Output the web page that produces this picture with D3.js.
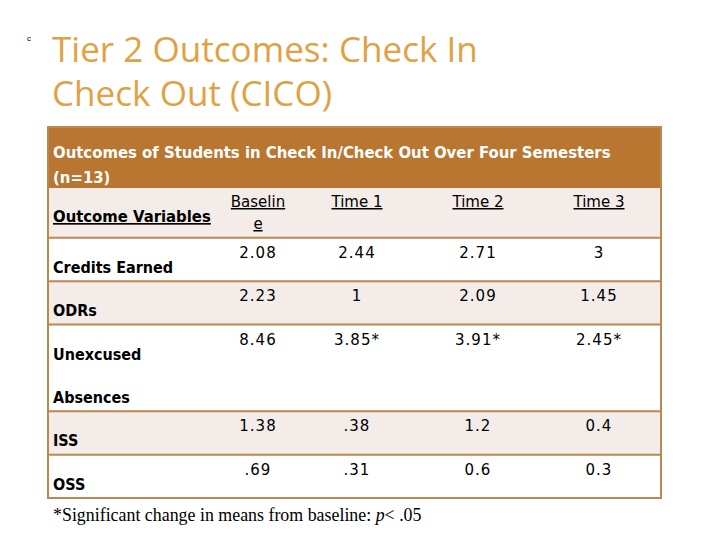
<!DOCTYPE html>
<html>
<head>
<meta charset="utf-8">
<script src="https://cdn.jsdelivr.net/npm/d3@7"></script>
<style>
  html, body { margin: 0; padding: 0; background: #ffffff; }
</style>
</head>
<body>
<div id="chart"></div>
<script>
// table data
var columns = ['Baseline', 'Time 1', 'Time 2', 'Time 3'];
var variables = ['Credits Earned', 'ODRs', 'Unexcused Absences', 'ISS', 'OSS'];
var baseline = ['2.08', '2.23', '8.46', '1.38', '.69'];
var time1 = ['2.44', '1', '3.85*', '.38', '.31'];
var time2 = ['2.71', '2.09', '3.91*', '1.2', '0.6'];
var time3 = ['3', '1.45', '2.45*', '0.4', '0.3'];
var series = [baseline, time1, time2, time3];

var W = 720, H = 540;
var brown = '#B87631';
var line = '#BA8850';
var shade = '#F3ECE8';
var orange = '#E1A142';
var tableFont = 'Tahoma, "DejaVu Sans", Verdana, sans-serif';
var condFont = '"DejaVu Sans Condensed", Tahoma, sans-serif';

var svg = d3.select('#chart').append('svg')
    .attr('width', W)
    .attr('height', H);

// squeeze/stretch a text so it spans the width seen on the slide
function fit(sel, target) {
    var w = sel.node().getComputedTextLength();
    var fs = parseFloat(sel.attr('font-size'));
    sel.attr('font-size', fs * target / w);
}

svg.append('text')
    .attr('x', 27).attr('y', 41)
    .attr('font-size', 8)
    .attr('font-family', 'Arial, sans-serif')
    .text('c');

var title = ['Tier 2 Outcomes: Check In', 'Check Out (CICO)'];
var titleSize = 34;
title.forEach(function (t, i) {
    var s = svg.append('text')
        .attr('x', 52).attr('y', 62 + i * 44)
        .attr('fill', orange)
        .attr('font-size', titleSize)
        .attr('font-family', '"Open Sans", "DejaVu Sans", sans-serif')
        .text(t);
    if (i === 0) {
        fit(s, 426);
        titleSize = s.attr('font-size');
    }
});

// table frame
var tLeft = 48, tRight = 661, tTop = 127, tBottom = 498;
var bandBottom = 188;

// row sizes in line units: header row, then the data rows (Unexcused Absences takes two)
var rowUnits = [1.15, 1, 1, 2, 1, 1];
var cum = [0];
rowUnits.forEach(function (u) { cum.push(cum[cum.length - 1] + u); });
var y = d3.scaleLinear().domain([0, cum[cum.length - 1]]).range([bandBottom, tBottom]);

// column centres as they sit on the slide
var x = d3.scaleOrdinal().domain(columns).range([258, 357, 478, 599]);

svg.append('rect')
    .attr('x', tLeft).attr('y', tTop)
    .attr('width', tRight - tLeft).attr('height', bandBottom - tTop)
    .attr('fill', brown);

// shaded rows: header, ODRs, ISS
[0, 2, 4].forEach(function (r) {
    svg.append('rect')
        .attr('x', tLeft).attr('y', y(cum[r]))
        .attr('width', tRight - tLeft).attr('height', y(cum[r + 1]) - y(cum[r]))
        .attr('fill', shade);
});

// separators
cum.slice(1, -1).forEach(function (c) {
    svg.append('line')
        .attr('x1', tLeft).attr('x2', tRight)
        .attr('y1', y(c)).attr('y2', y(c))
        .attr('stroke', line).attr('stroke-width', 2);
});
svg.append('rect')
    .attr('x', tLeft).attr('y', tTop)
    .attr('width', tRight - tLeft).attr('height', tBottom - tTop)
    .attr('fill', 'none')
    .attr('stroke', line).attr('stroke-width', 2);

var cap = svg.append('text')
    .attr('x', 53).attr('y', 158)
    .attr('fill', '#ffffff')
    .attr('font-size', 15)
    .attr('font-weight', 'bold')
    .attr('font-family', condFont)
    .text('Outcomes of Students in Check In/Check Out Over Four Semesters');
fit(cap, 558);
svg.append('text')
    .attr('x', 53).attr('y', 183)
    .attr('fill', '#ffffff')
    .attr('font-size', cap.attr('font-size'))
    .attr('font-weight', 'bold')
    .attr('font-family', condFont)
    .text('(n=13)');

// header row
function underlined(tx, ty, t, anchor) {
    return svg.append('text')
        .attr('x', tx).attr('y', ty)
        .attr('fill', '#000')
        .attr('font-size', 15)
        .attr('font-weight', anchor === 'start' ? 'bold' : 'normal')
        .attr('font-family', anchor === 'start' ? condFont : tableFont)
        .attr('text-anchor', anchor)
        .attr('text-decoration', 'underline')
        .text(t);
}
var ov = underlined(53, 222, 'Outcome Variables', 'start');
fit(ov, 158);
columns.forEach(function (c) {
    if (c === 'Baseline') {
        underlined(x(c), 207, 'Baselin', 'middle');
        underlined(x(c), 229, 'e', 'middle');
    } else {
        underlined(x(c), 207, c, 'middle');
    }
});

// data rows
variables.forEach(function (v, i) {
    var r = i + 1;
    var rowTop = y(cum[r]);
    var parts = rowUnits[r] > 1 ? v.split(' ') : [v];
    parts.forEach(function (p, k) {
        svg.append('text')
            .attr('x', 53)
            .attr('y', rowTop + 35 + k * (y(cum[r] + 1) - rowTop))
            .attr('fill', '#000')
            .attr('font-size', 16)
            .attr('font-weight', 'bold')
            .attr('font-family', condFont)
            .text(p);
    });
    columns.forEach(function (c, j) {
        svg.append('text')
            .attr('x', x(c))
            .attr('y', rowTop + 20)
            .attr('fill', '#000')
            .attr('font-size', 15)
            .attr('font-family', tableFont)
            .attr('text-anchor', 'middle')
            .attr('letter-spacing', 1)
            .text(series[j][i]);
    });
});

var foot = svg.append('text')
    .attr('x', 53).attr('y', 521)
    .attr('fill', '#000')
    .attr('font-size', 17)
    .attr('font-family', '"Liberation Serif", "Times New Roman", serif');
foot.append('tspan').text('*Significant change in means from baseline: ');
foot.append('tspan').attr('font-style', 'italic').text('p');
foot.append('tspan').text('< .05');
fit(foot, 369);
</script>
</body>
</html>
